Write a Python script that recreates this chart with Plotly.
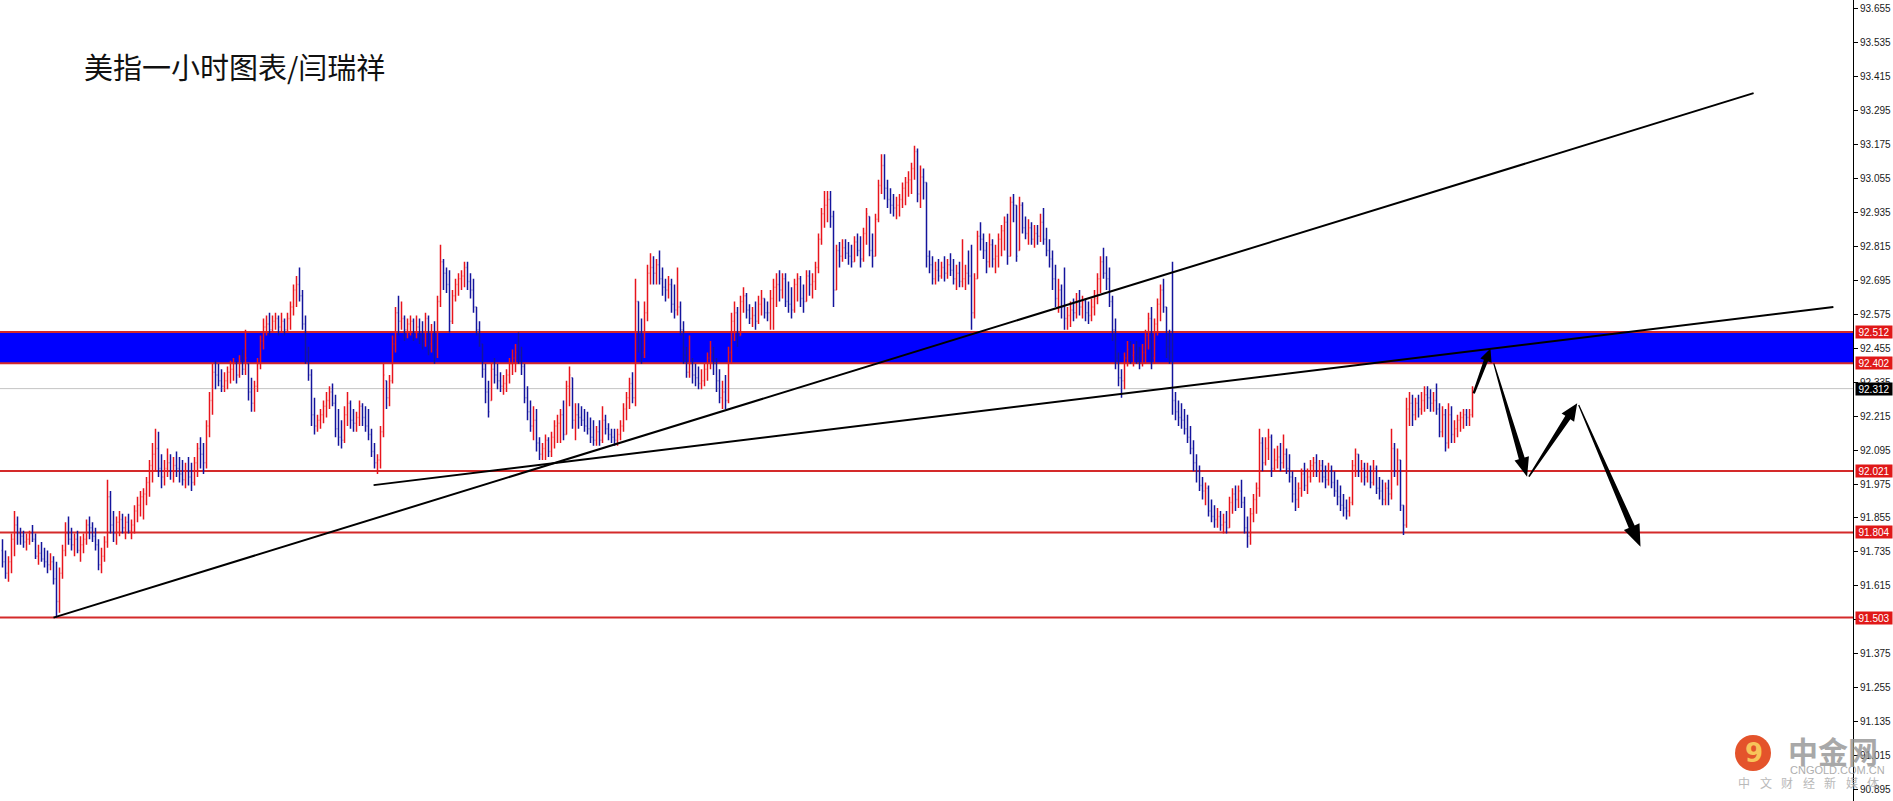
import plotly.graph_objects as go
import numpy as np

# ---------------- data (US dollar index, 1-hour bars) ----------------
hi = [
 91.78, 91.74, 91.72, 91.80, 91.88, 91.86, 91.82, 91.81, 91.80, 91.81,
 91.83, 91.80, 91.76, 91.77, 91.75, 91.74, 91.73, 91.72, 91.70, 91.68,
 91.76, 91.84, 91.86, 91.82, 91.80, 91.81, 91.79, 91.80, 91.85, 91.86,
 91.84, 91.82, 91.78, 91.75, 91.79, 91.99, 91.95, 91.88, 91.86, 91.88,
 91.87, 91.86, 91.87, 91.85, 91.90, 91.93, 91.95, 91.96, 92.00, 92.06,
 92.12, 92.17, 92.16, 92.08, 92.06, 92.10, 92.08, 92.07, 92.09, 92.07,
 92.06, 92.05, 92.07, 92.05, 92.07, 92.12, 92.14, 92.12, 92.20, 92.30,
 92.40, 92.41, 92.40, 92.38, 92.37, 92.39, 92.41, 92.42, 92.41, 92.43,
 92.45, 92.52, 92.40, 92.35, 92.34, 92.42, 92.50, 92.56, 92.57, 92.58,
 92.57, 92.58, 92.57, 92.58, 92.56, 92.58, 92.62, 92.68, 92.71, 92.74,
 92.66, 92.57, 92.46, 92.38, 92.28, 92.22, 92.24, 92.27, 92.30, 92.32,
 92.33, 92.29, 92.24, 92.20, 92.25, 92.30, 92.27, 92.24, 92.23, 92.27,
 92.26, 92.25, 92.24, 92.17, 92.12, 92.08, 92.18, 92.40, 92.34, 92.36,
 92.50, 92.60, 92.64, 92.62, 92.57, 92.56, 92.57, 92.56, 92.57, 92.56,
 92.55, 92.58, 92.57, 92.54, 92.55, 92.64, 92.82, 92.77, 92.74, 92.73,
 92.66, 92.70, 92.72, 92.73, 92.76, 92.76, 92.72, 92.70, 92.60, 92.55,
 92.47, 92.40, 92.34, 92.40, 92.42, 92.40, 92.37, 92.36, 92.38, 92.42,
 92.45, 92.47, 92.51, 92.46, 92.40, 92.32, 92.27, 92.25, 92.24, 92.14,
 92.12, 92.15, 92.14, 92.16, 92.20, 92.22, 92.24, 92.27, 92.34, 92.39,
 92.35, 92.26, 92.26, 92.25, 92.24, 92.23, 92.21, 92.20, 92.18, 92.20,
 92.25, 92.22, 92.19, 92.17, 92.17, 92.17, 92.20, 92.26, 92.30, 92.35,
 92.37, 92.70, 92.62, 92.56, 92.62, 92.75, 92.79, 92.78, 92.77, 92.80,
 92.74, 92.70, 92.71, 92.70, 92.68, 92.74, 92.62, 92.55, 92.46, 92.50,
 92.42, 92.40, 92.39, 92.38, 92.40, 92.44, 92.48, 92.46, 92.42, 92.38,
 92.34, 92.36, 92.46, 92.58, 92.62, 92.60, 92.64, 92.67, 92.65, 92.61,
 92.60, 92.62, 92.64, 92.66, 92.63, 92.62, 92.66, 92.70, 92.72, 92.73,
 92.72, 92.72, 92.69, 92.67, 92.70, 92.72, 92.71, 92.68, 92.73, 92.73,
 92.72, 92.76, 92.86, 92.95, 93.01, 93.01, 93.01, 92.94, 92.82, 92.83,
 92.84, 92.84, 92.83, 92.82, 92.85, 92.86, 92.85, 92.88, 92.95, 92.92,
 92.86, 92.93, 93.05, 93.14, 93.14, 93.05, 93.02, 93.00, 92.99, 93.00,
 93.04, 93.06, 93.08, 93.11, 93.17, 93.16, 93.10, 93.09, 93.04, 92.80,
 92.78, 92.76, 92.77, 92.76, 92.78, 92.77, 92.79, 92.77, 92.75, 92.76,
 92.84, 92.75, 92.80, 92.82, 92.72, 92.87, 92.90, 92.86, 92.83, 92.86,
 92.84, 92.82, 92.86, 92.89, 92.92, 92.93, 92.99, 93.00, 92.96, 92.99,
 92.97, 92.92, 92.91, 92.90, 92.89, 92.89, 92.93, 92.95, 92.88, 92.84,
 92.80, 92.75, 92.70, 92.68, 92.74, 92.60, 92.62, 92.63, 92.65, 92.66,
 92.64, 92.63, 92.62, 92.63, 92.66, 92.72, 92.78, 92.81, 92.78, 92.74,
 92.64, 92.56, 92.44, 92.38, 92.44, 92.48, 92.48, 92.47, 92.48, 92.46,
 92.47, 92.52, 92.58, 92.60, 92.56, 92.63, 92.68, 92.70, 92.60, 92.52,
 92.76, 92.30, 92.27, 92.26, 92.24, 92.22, 92.18, 92.13, 92.08, 92.04,
 92.00, 91.98, 91.97, 91.92, 91.90, 91.89, 91.88, 91.87, 91.88, 91.93,
 91.96, 91.97, 91.97, 91.99, 91.93, 91.86, 91.89, 91.94, 91.98, 92.17,
 92.14, 92.14, 92.17, 92.15, 92.10, 92.11, 92.12, 92.15, 92.10, 92.08,
 92.02, 92.00, 91.98, 92.03, 92.05, 92.03, 92.06, 92.07, 92.08, 92.06,
 92.06, 92.04, 92.05, 92.04, 92.02, 91.99, 91.97, 91.94, 91.92, 91.93,
 92.06, 92.10, 92.08, 92.06, 92.05, 92.05, 92.04, 92.06, 92.04, 92.00,
 91.99, 91.98, 91.99, 92.17, 92.12, 92.10, 92.06, 91.90, 92.28, 92.30,
 92.29, 92.28, 92.29, 92.30, 92.32, 92.32, 92.31, 92.30, 92.33, 92.26,
 92.25, 92.24, 92.26, 92.25, 92.20, 92.22, 92.23, 92.24, 92.24, 92.24,
 92.32,
]
lo = [
 91.68, 91.64, 91.63, 91.66, 91.72, 91.76, 91.76, 91.75, 91.74, 91.76,
 91.77, 91.71, 91.69, 91.70, 91.68, 91.66, 91.67, 91.62, 91.503, 91.52,
 91.64, 91.72, 91.76, 91.74, 91.72, 91.73, 91.70, 91.73, 91.76, 91.78,
 91.77, 91.74, 91.67, 91.66, 91.70, 91.75, 91.80, 91.77, 91.76, 91.79,
 91.80, 91.78, 91.80, 91.78, 91.80, 91.84, 91.86, 91.85, 91.90, 91.93,
 91.98, 92.02, 92.00, 91.96, 91.97, 92.00, 91.99, 91.98, 92.00, 91.98,
 91.97, 91.96, 91.97, 91.95, 91.97, 92.00, 92.03, 92.01, 92.03, 92.14,
 92.22, 92.31, 92.32, 92.30, 92.30, 92.31, 92.33, 92.34, 92.33, 92.35,
 92.36, 92.36, 92.27, 92.23, 92.23, 92.30, 92.38, 92.45, 92.50, 92.50,
 92.51, 92.52, 92.50, 92.51, 92.50, 92.51, 92.52, 92.57, 92.60, 92.62,
 92.52, 92.40, 92.34, 92.18, 92.15, 92.16, 92.17, 92.19, 92.21, 92.24,
 92.25, 92.14, 92.11, 92.10, 92.12, 92.18, 92.17, 92.16, 92.16, 92.18,
 92.18, 92.16, 92.13, 92.07, 92.03, 92.01, 92.03, 92.14, 92.24, 92.25,
 92.33, 92.44, 92.50, 92.52, 92.48, 92.49, 92.50, 92.48, 92.49, 92.47,
 92.45, 92.46, 92.43, 92.44, 92.40, 92.42, 92.60, 92.66, 92.65, 92.51,
 92.54, 92.62, 92.64, 92.66, 92.67, 92.66, 92.63, 92.58, 92.50, 92.46,
 92.35, 92.26, 92.21, 92.27, 92.33, 92.31, 92.30, 92.29, 92.30, 92.33,
 92.36, 92.37, 92.40, 92.36, 92.26, 92.20, 92.16, 92.13, 92.09, 92.06,
 92.06, 92.06, 92.07, 92.07, 92.10, 92.12, 92.12, 92.13, 92.15, 92.25,
 92.17, 92.13, 92.17, 92.18, 92.16, 92.15, 92.12, 92.11, 92.11, 92.11,
 92.12, 92.15, 92.13, 92.12, 92.11, 92.11, 92.13, 92.16, 92.20, 92.24,
 92.26, 92.25, 92.44, 92.40, 92.42, 92.55, 92.68, 92.68, 92.68, 92.68,
 92.64, 92.62, 92.63, 92.58, 92.56, 92.57, 92.50, 92.40, 92.35, 92.35,
 92.33, 92.32, 92.31, 92.31, 92.32, 92.34, 92.38, 92.36, 92.30, 92.26,
 92.24, 92.24, 92.26, 92.40, 92.48, 92.46, 92.50, 92.58, 92.56, 92.54,
 92.53, 92.52, 92.54, 92.57, 92.56, 92.55, 92.52, 92.52, 92.60, 92.62,
 92.63, 92.60, 92.58, 92.56, 92.58, 92.62, 92.60, 92.58, 92.62, 92.64,
 92.63, 92.66, 92.72, 92.82, 92.88, 92.90, 92.88, 92.60, 92.66, 92.74,
 92.76, 92.77, 92.75, 92.74, 92.76, 92.78, 92.74, 92.76, 92.82, 92.78,
 92.74, 92.78, 92.90, 93.00, 92.98, 92.95, 92.93, 92.92, 92.91, 92.92,
 92.95, 92.96, 92.99, 93.00, 93.05, 92.97, 92.95, 92.98, 92.74, 92.72,
 92.68, 92.68, 92.69, 92.70, 92.69, 92.70, 92.71, 92.68, 92.66, 92.67,
 92.67, 92.66, 92.68, 92.52, 92.56, 92.70, 92.80, 92.77, 92.72, 92.74,
 92.74, 92.72, 92.74, 92.78, 92.80, 92.75, 92.78, 92.90, 92.76, 92.80,
 92.86, 92.84, 92.82, 92.82, 92.81, 92.82, 92.83, 92.82, 92.78, 92.74,
 92.66, 92.60, 92.58, 92.56, 92.52, 92.52, 92.53, 92.55, 92.56, 92.57,
 92.56, 92.55, 92.54, 92.55, 92.57, 92.61, 92.65, 92.70, 92.66, 92.60,
 92.48, 92.38, 92.32, 92.28, 92.31, 92.39, 92.40, 92.39, 92.40, 92.38,
 92.39, 92.40, 92.45, 92.38, 92.40, 92.50, 92.55, 92.58, 92.42, 92.40,
 92.22, 92.20, 92.18, 92.17, 92.15, 92.12, 92.08, 92.02, 91.98, 91.95,
 91.92, 91.90, 91.86, 91.84, 91.82, 91.82, 91.81, 91.80, 91.80, 91.82,
 91.87, 91.88, 91.89, 91.89, 91.80, 91.75, 91.76, 91.84, 91.87, 91.93,
 92.02, 92.04, 92.06, 92.00, 92.02, 92.03, 92.02, 92.03, 92.01, 91.98,
 91.91, 91.88, 91.89, 91.93, 91.95, 91.94, 91.98, 92.00, 92.00, 91.98,
 91.98, 91.96, 91.97, 91.96, 91.93, 91.90, 91.88, 91.86, 91.85, 91.86,
 91.90, 92.00, 92.00, 91.98, 91.97, 91.98, 91.96, 91.97, 91.94, 91.92,
 91.90, 91.90, 91.90, 91.92, 92.00, 91.97, 91.88, 91.795, 91.82, 92.18,
 92.18, 92.20, 92.21, 92.22, 92.23, 92.24, 92.23, 92.23, 92.22, 92.14,
 92.14, 92.09, 92.10, 92.12, 92.12, 92.14, 92.16, 92.17, 92.18, 92.18,
 92.21,
]
cl = [
 91.70, 91.66, 91.70, 91.78, 91.83, 91.80, 91.79, 91.77, 91.78, 91.80,
 91.78, 91.72, 91.73, 91.71, 91.70, 91.69, 91.70, 91.64, 91.56, 91.66,
 91.74, 91.80, 91.78, 91.76, 91.78, 91.74, 91.76, 91.78, 91.83, 91.82,
 91.79, 91.76, 91.69, 91.72, 91.77, 91.93, 91.83, 91.80, 91.84, 91.85,
 91.82, 91.84, 91.81, 91.83, 91.88, 91.90, 91.93, 91.94, 91.98, 92.04,
 92.08, 92.10, 92.03, 92.00, 92.03, 92.05, 92.02, 92.04, 92.03, 92.01,
 91.99, 92.02, 92.00, 91.98, 92.05, 92.10, 92.08, 92.05, 92.18, 92.27,
 92.37, 92.36, 92.34, 92.32, 92.34, 92.37, 92.38, 92.40, 92.36, 92.41,
 92.38, 92.42, 92.30, 92.26, 92.32, 92.40, 92.48, 92.53, 92.54, 92.52,
 92.55, 92.56, 92.53, 92.55, 92.52, 92.56, 92.60, 92.66, 92.68, 92.64,
 92.54, 92.44, 92.36, 92.22, 92.18, 92.20, 92.22, 92.25, 92.27, 92.30,
 92.26, 92.17, 92.14, 92.13, 92.22, 92.26, 92.20, 92.19, 92.21, 92.25,
 92.21, 92.18, 92.15, 92.09, 92.05, 92.06, 92.16, 92.36, 92.28, 92.34,
 92.47, 92.58, 92.55, 92.56, 92.52, 92.54, 92.55, 92.51, 92.53, 92.50,
 92.48, 92.56, 92.47, 92.51, 92.45, 92.62, 92.76, 92.72, 92.68, 92.55,
 92.64, 92.68, 92.70, 92.71, 92.74, 92.69, 92.66, 92.60, 92.52, 92.48,
 92.38, 92.30, 92.23, 92.38, 92.36, 92.34, 92.32, 92.33, 92.36, 92.40,
 92.42, 92.44, 92.43, 92.39, 92.28, 92.23, 92.18, 92.20, 92.12, 92.08,
 92.10, 92.13, 92.09, 92.14, 92.18, 92.19, 92.22, 92.15, 92.32, 92.36,
 92.20, 92.22, 92.21, 92.20, 92.18, 92.17, 92.14, 92.13, 92.16, 92.13,
 92.20, 92.17, 92.15, 92.14, 92.13, 92.15, 92.18, 92.24, 92.28, 92.33,
 92.28, 92.62, 92.50, 92.44, 92.58, 92.72, 92.74, 92.72, 92.75, 92.70,
 92.67, 92.66, 92.68, 92.61, 92.59, 92.60, 92.52, 92.43, 92.37, 92.40,
 92.36, 92.35, 92.33, 92.34, 92.38, 92.42, 92.44, 92.40, 92.34, 92.28,
 92.30, 92.27, 92.44, 92.55, 92.58, 92.50, 92.62, 92.64, 92.59, 92.56,
 92.57, 92.55, 92.61, 92.63, 92.58, 92.58, 92.63, 92.67, 92.68, 92.66,
 92.70, 92.62, 92.61, 92.59, 92.68, 92.70, 92.63, 92.62, 92.71, 92.68,
 92.69, 92.74, 92.84, 92.93, 92.96, 92.98, 92.92, 92.66, 92.80, 92.78,
 92.81, 92.79, 92.78, 92.76, 92.83, 92.80, 92.77, 92.86, 92.93, 92.80,
 92.78, 92.91, 93.03, 93.10, 93.02, 92.98, 92.96, 92.95, 92.96, 92.98,
 93.02, 93.04, 93.05, 93.09, 93.15, 93.00, 93.06, 93.04, 92.78, 92.75,
 92.70, 92.73, 92.71, 92.74, 92.72, 92.75, 92.73, 92.70, 92.72, 92.69,
 92.70, 92.72, 92.71, 92.58, 92.70, 92.85, 92.84, 92.80, 92.76, 92.82,
 92.77, 92.78, 92.84, 92.87, 92.90, 92.78, 92.97, 92.96, 92.78, 92.96,
 92.88, 92.86, 92.88, 92.84, 92.86, 92.85, 92.90, 92.84, 92.80, 92.77,
 92.70, 92.63, 92.66, 92.60, 92.56, 92.57, 92.59, 92.58, 92.62, 92.60,
 92.62, 92.58, 92.57, 92.60, 92.63, 92.70, 92.76, 92.72, 92.70, 92.62,
 92.52, 92.42, 92.35, 92.34, 92.42, 92.45, 92.43, 92.44, 92.42, 92.41,
 92.44, 92.50, 92.56, 92.42, 92.54, 92.61, 92.66, 92.60, 92.46, 92.44,
 92.27, 92.23, 92.21, 92.20, 92.17, 92.14, 92.10, 92.05, 92.02, 91.97,
 91.95, 91.96, 91.88, 91.86, 91.85, 91.86, 91.83, 91.84, 91.82, 91.91,
 91.94, 91.92, 91.95, 91.91, 91.82, 91.79, 91.87, 91.92, 91.96, 92.12,
 92.05, 92.10, 92.14, 92.03, 92.06, 92.07, 92.05, 92.08, 92.03, 92.00,
 91.94, 91.92, 91.96, 92.01, 91.97, 92.00, 92.04, 92.05, 92.02, 92.04,
 92.00, 91.99, 92.02, 91.98, 91.95, 91.93, 91.90, 91.89, 91.88, 91.91,
 92.04, 92.08, 92.02, 92.03, 92.00, 92.02, 91.98, 92.03, 91.96, 91.95,
 91.92, 91.96, 91.94, 92.10, 92.02, 92.06, 91.90, 91.83, 92.24, 92.26,
 92.22, 92.26, 92.24, 92.27, 92.29, 92.28, 92.26, 92.27, 92.24, 92.16,
 92.22, 92.12, 92.22, 92.15, 92.17, 92.20, 92.21, 92.22, 92.21, 92.22,
 92.312,
]
first_open = 91.74

# horizontal levels drawn by the analyst
zone_levels = [92.402, 92.512]
red_levels = [92.021, 91.804, 91.503]
bid_level = 92.312

# trend lines: (bar index, price) end points
trend_x = [[17.0, 583.7], [123.7, 610.3]]
trend_y = [[91.503, 93.356], [91.971, 92.600]]

# projected path arrows: start -> tip (bar index, price)
arrow_x0 = [490.4, 497.1, 508.8, 525.4]
arrow_y0 = [92.295, 92.401, 92.001, 92.254]
arrow_x1 = [496.0, 508.2, 524.9, 546.0]
arrow_y1 = [92.454, 92.001, 92.260, 91.753]

# price-scale ticks
tick_vals = [93.655, 93.535, 93.415, 93.295, 93.175, 93.055, 92.935, 92.815,
             92.695, 92.575, 92.455, 92.335, 92.215, 92.095, 91.975, 91.855,
             91.735, 91.615, 91.495, 91.375, 91.255, 91.135, 91.015, 90.895]

title_text = "美指一小时图表/闫瑞祥"

# ---------------- geometry ----------------
W, H = 1893, 801
PW = 1853                       # plot width in px (price scale to the right)
x_range = [-2.5 / 3, (PW - 2.5) / 3]
y_range = [90.855, 93.685]
sx = PW / (x_range[1] - x_range[0])
sy = H / (y_range[1] - y_range[0])

def to_px(xv, yv):
    return (xv - x_range[0]) * sx, (y_range[1] - yv) * sy

def to_data(px, py):
    return x_range[0] + px / sx, y_range[1] - py / sy

RED = "#e8141c"
BLUE = "#14149c"
LEVEL_RED = "#d42a2a"

n = len(hi)
assert len(lo) == n and len(cl) == n
bars = list(range(n))
op = [first_open] + cl[:-1]
op = [min(max(o, l), h) for o, l, h in zip(op, lo, hi)]

fig = go.Figure()
fig.add_trace(go.Ohlc(
    x=bars, open=op, high=hi, low=lo, close=cl,
    increasing=dict(line=dict(color=RED, width=1.5)),
    decreasing=dict(line=dict(color=BLUE, width=1.5)),
    tickwidth=0.3, hoverinfo="skip", showlegend=False,
))

shapes = []
# blue zone
shapes.append(dict(type="rect", xref="paper", yref="y", x0=0, x1=1,
                   y0=zone_levels[0], y1=zone_levels[1],
                   fillcolor="#0000ff", line=dict(width=0), layer="below"))
for lv in zone_levels + red_levels:
    shapes.append(dict(type="line", xref="paper", yref="y", x0=0, x1=1,
                       y0=lv, y1=lv, line=dict(color=LEVEL_RED, width=2),
                       layer="below"))
shapes.append(dict(type="line", xref="paper", yref="y", x0=0, x1=1,
                   y0=bid_level, y1=bid_level,
                   line=dict(color="#c4c4c4", width=1), layer="below"))
# trend lines
for tx, ty in zip(trend_x, trend_y):
    shapes.append(dict(type="line", xref="x", yref="y", x0=tx[0], x1=tx[1],
                       y0=ty[0], y1=ty[1], line=dict(color="black", width=2),
                       layer="above"))

# tapered arrows (built in pixel space, converted back to data units)
arrow_geom = [(1.2, 2.2, 13, 6.0), (0.6, 3.0, 19, 7.5), (0.8, 3.0, 17, 7.5), (0.6, 3.2, 22, 8.5)]
for xa, ya, xb, yb, (w0, w1, hl, hw) in zip(arrow_x0, arrow_y0, arrow_x1, arrow_y1, arrow_geom):
    sxp, syp = to_px(xa, ya)
    exp_, eyp = to_px(xb, yb)
    d = np.array([exp_ - sxp, eyp - syp])
    u = d / np.linalg.norm(d)
    nv = np.array([-u[1], u[0]])
    S = np.array([sxp, syp]); E = np.array([exp_, eyp]); B = E - u * hl
    pts = [S + nv * w0, B + nv * w1, B + nv * hw, E, B - nv * hw, B - nv * w1, S - nv * w0]
    dpts = [to_data(p[0], p[1]) for p in pts]
    path = "M " + " L ".join(f"{p[0]:.4f},{p[1]:.5f}" for p in dpts) + " Z"
    shapes.append(dict(type="path", xref="x", yref="y", path=path,
                       fillcolor="black", line=dict(width=0), layer="above"))

def pxp(px):
    return px / PW

def pyp(py):
    return 1 - py / H

# watermark logo circle
shapes.append(dict(type="circle", xref="paper", yref="paper",
                   x0=pxp(1735), x1=pxp(1771), y0=pyp(771), y1=pyp(735),
                   fillcolor="#e4532b", line=dict(width=0), layer="above"))

annotations = []
annotations.append(dict(text=title_text, xref="paper", yref="paper",
                        x=pxp(82), y=pyp(66), xanchor="left", yanchor="middle",
                        showarrow=False,
                        font=dict(family="Noto Sans CJK SC", size=29, color="#111111")))

# highlighted price labels on the scale
for v, bg in [(92.512, "#e01818"), (92.402, "#e01818"), (92.021, "#e01818"),
              (91.804, "#e01818"), (91.503, "#e01818"), (bid_level, "#000000")]:
    annotations.append(dict(text=f"{v:.3f}", xref="paper", yref="y",
                            x=pxp(1855), y=v, xanchor="left", yanchor="middle",
                            showarrow=False, bgcolor=bg, width=34, height=10,
                            borderpad=1, align="center",
                            font=dict(family="Liberation Sans", size=10, color="white")))

# watermark
annotations.append(dict(text="<b>9</b>", xref="paper", yref="paper",
                        x=pxp(1753.5), y=pyp(753), xanchor="center", yanchor="middle",
                        showarrow=False, font=dict(family="DejaVu Sans", size=26, color="#f7c45a")))
annotations.append(dict(text="<b>中金网</b>", xref="paper", yref="paper",
                        x=pxp(1786), y=pyp(750), xanchor="left", yanchor="middle",
                        showarrow=False, opacity=0.8,
                        font=dict(family="Noto Sans CJK SC", size=30, color="#939393")))
annotations.append(dict(text="CNGOLD.COM.CN", xref="paper", yref="paper",
                        x=pxp(1788), y=pyp(770), xanchor="left", yanchor="middle",
                        showarrow=False, opacity=0.8,
                        font=dict(family="Liberation Sans", size=11, color="#9a9a9a")))
for k, ch in enumerate("中文财经新媒体"):
    annotations.append(dict(text=ch, xref="paper", yref="paper",
                            x=pxp(1744 + k * 21.5), y=pyp(782), xanchor="center",
                            yanchor="middle", showarrow=False, opacity=0.8,
                            font=dict(family="Noto Sans CJK SC", size=12, color="#a8a8a8")))

fig.update_layout(
    width=W, height=H, autosize=False,
    margin=dict(l=0, r=W - PW, t=0, b=0, pad=0),
    paper_bgcolor="white", plot_bgcolor="white",
    shapes=shapes, annotations=annotations, showlegend=False,
    xaxis=dict(range=x_range, showgrid=False, zeroline=False, showticklabels=False,
               ticks="", showline=False, rangeslider=dict(visible=False), fixedrange=True),
    yaxis=dict(range=y_range, side="right", showgrid=False, zeroline=False,
               tickmode="array", tickvals=tick_vals,
               ticktext=[f"{v:.3f}" for v in tick_vals],
               ticks="outside", ticklen=4, tickcolor="black", tickwidth=1,
               showline=True, linecolor="black", linewidth=1, automargin=False,
               tickfont=dict(family="Liberation Sans", size=10, color="#1a1a1a"),
               fixedrange=True),
)

fig.write_html("out.html", config={"displayModeBar": False},
               post_script="document.body.style.margin='0px';document.body.style.overflow='hidden';")
